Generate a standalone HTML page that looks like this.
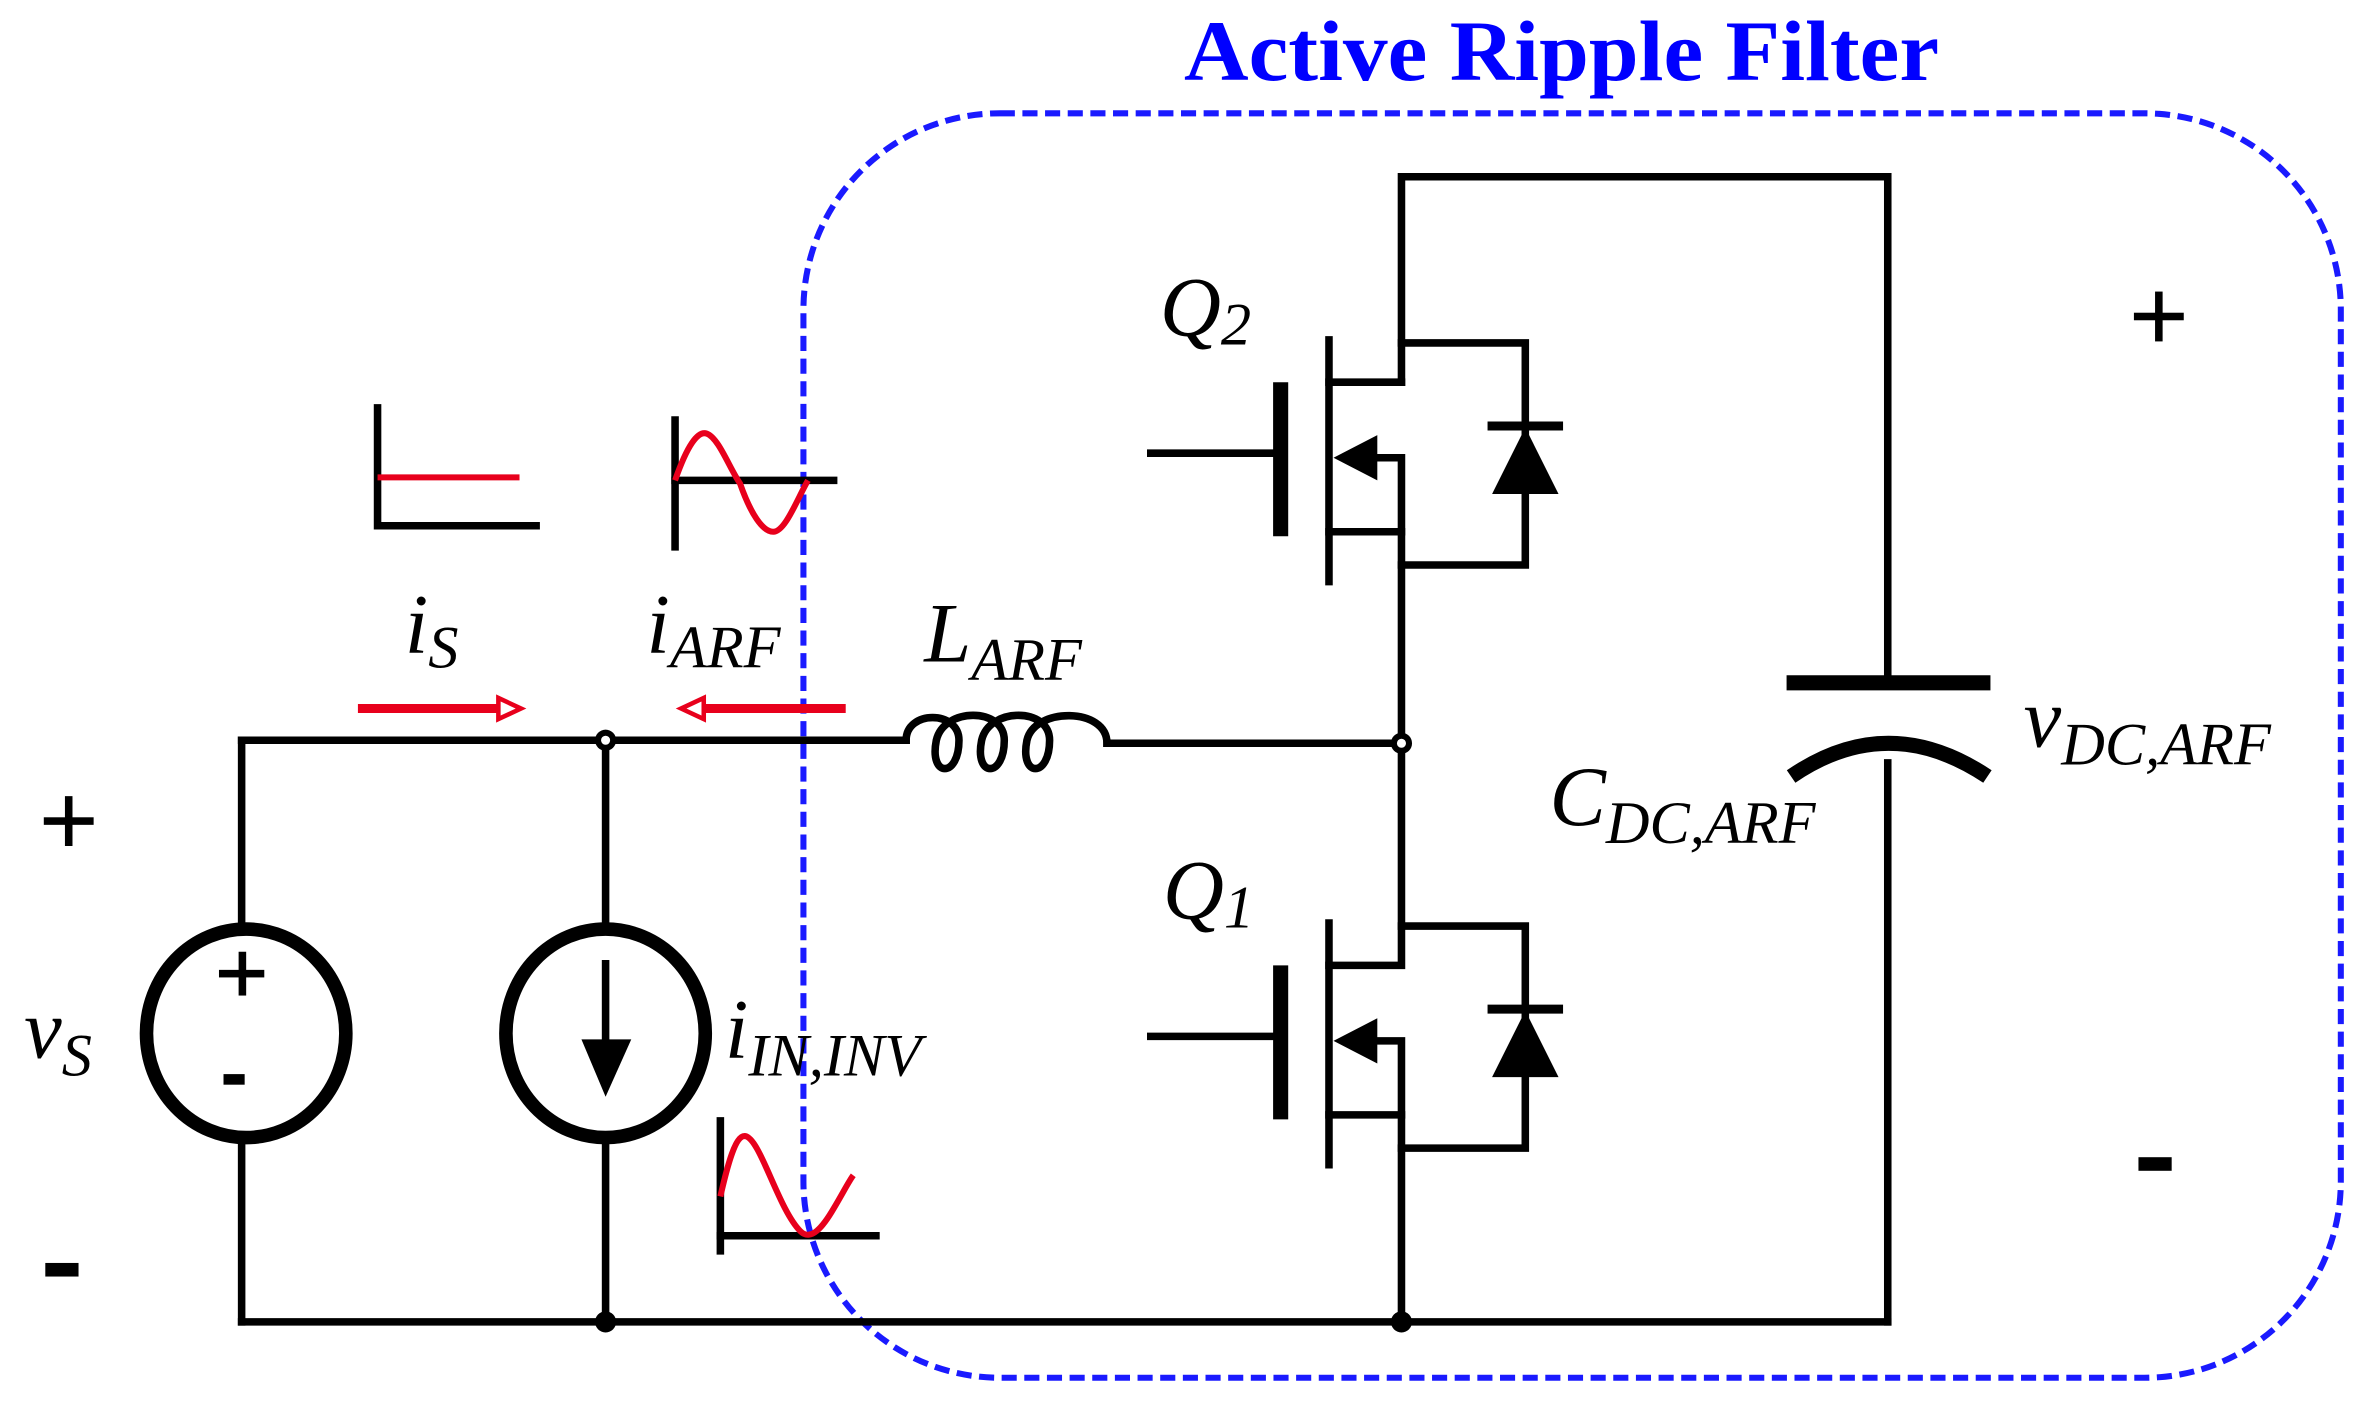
<!DOCTYPE html>
<html><head><style>html,body{margin:0;padding:0;background:#fff}svg{display:block}</style></head><body>
<svg width="2368" height="1411" viewBox="0 0 1568 934" preserveAspectRatio="none" xmlns="http://www.w3.org/2000/svg">
<g font-family="Liberation Serif, serif">
<text x="1034" y="53" text-anchor="middle" font-size="57" font-weight="bold" fill="#0000ff" textLength="500" lengthAdjust="spacingAndGlyphs">Active Ripple Filter</text>
</g>
<rect x="532" y="75" width="1018" height="837" rx="130" ry="130" fill="none" stroke="#1a1aff" stroke-width="4" stroke-dasharray="10,5"/>
<g stroke="#000" stroke-width="5" fill="none" stroke-linecap="square">
<polyline points="928,253 928,117 1250,117 1250,452"/>
<line x1="1250" y1="505" x2="1250" y2="875"/>
<line x1="160" y1="875" x2="1250" y2="875"/>
<line x1="160" y1="490" x2="600" y2="490"/>
<line x1="733" y1="492" x2="928" y2="492"/>
<path d="M600,490 C600,470 635,470 635,490 C635,515 615,515 620,490 C625,468 665,468 665,490 C665,515 645,515 650,490 C655,468 695,468 695,490 C695,515 675,515 680,490 C685,468 733,468 733,492"/>
<line x1="160" y1="490" x2="160" y2="613"/>
<line x1="160" y1="755" x2="160" y2="875"/>
<line x1="401" y1="490" x2="401" y2="613"/>
<line x1="401" y1="755" x2="401" y2="875"/>
<line x1="401" y1="638" x2="401" y2="695"/>
<line x1="880" y1="253" x2="928" y2="253"/>
<polyline points="895,303 928,303 928,492"/>
<line x1="880" y1="352" x2="928" y2="352"/>
<polyline points="928,227 1010,227 1010,374 928,374"/>
<line x1="880" y1="225" x2="880" y2="385"/>
<line x1="762" y1="300" x2="848" y2="300"/>
<polyline points="928,492 928,639 880,639"/>
<polyline points="895,689 928,689 928,875"/>
<line x1="880" y1="738" x2="928" y2="738"/>
<polyline points="928,613 1010,613 1010,760 928,760"/>
<line x1="880" y1="611" x2="880" y2="771"/>
<line x1="762" y1="686" x2="848" y2="686"/>
<polyline points="250,270 250,348 355,348"/>
<polyline points="447,278 447,362"/>
<line x1="447" y1="318" x2="552" y2="318"/>
<polyline points="477,742 477,828"/>
<line x1="477" y1="818" x2="580" y2="818"/>
</g>
<g stroke="#000" stroke-width="10" fill="none">
<line x1="848" y1="253" x2="848" y2="355"/>
<line x1="848" y1="639" x2="848" y2="741"/>
<line x1="1183" y1="452" x2="1318" y2="452"/>
<path d="M1186,514 Q1250,470 1316,514"/>
<ellipse cx="163" cy="684" rx="66" ry="69" stroke-width="9"/>
<ellipse cx="401" cy="684" rx="66" ry="69" stroke-width="9"/>
<line x1="985" y1="282" x2="1035" y2="282" stroke-width="6"/>
<line x1="985" y1="668" x2="1035" y2="668" stroke-width="6"/>
</g>
<g fill="#000">
<polygon points="1010,283 988,327 1032,327"/>
<polygon points="1010,669 988,713 1032,713"/>
<polygon points="883,303 912,288 912,318"/>
<polygon points="883,689 912,674 912,704"/>
<polygon points="385,688 418,688 401,726"/>
<circle cx="401" cy="490" r="7"/><circle cx="928" cy="492" r="7"/>
<circle cx="401" cy="875" r="7"/><circle cx="928" cy="875" r="7"/>
<rect x="145" y="642" width="30" height="5"/><rect x="158" y="630" width="5" height="29"/>
<rect x="148" y="711" width="14" height="7"/>
</g>
<circle cx="401" cy="490" r="3" fill="#fff"/><circle cx="928" cy="492" r="3" fill="#fff"/>
<g stroke="#e8001c" stroke-width="4" fill="none">
<line x1="250" y1="316" x2="344" y2="316"/>
<path d="M447,318 C455,295 462,285 468,287 C476,290 483,310 490,320 C497,340 505,352 512,352 C520,352 528,330 535,318"/>
<path d="M477,792 C482,770 487,752 493,752 C503,752 515,800 530,815 C537,822 545,812 552,800 C558,790 562,782 565,778"/>
<line x1="237" y1="469" x2="335" y2="469" stroke-width="6"/>
<line x1="462" y1="469" x2="560" y2="469" stroke-width="6"/>
<polygon points="330,462 345,469 330,476" stroke-width="3" fill="#fff"/>
<polygon points="466,462 451,469 466,476" stroke-width="3" fill="#fff"/>
</g>
<g font-family="Liberation Serif, serif" font-style="italic" fill="#000">
<text x="268" y="432" font-size="56">i<tspan font-size="40" dy="10">S</tspan></text>
<text x="428" y="432" font-size="56">i<tspan font-size="40" dy="10">ARF</tspan></text>
<text x="612" y="438" font-size="56">L<tspan font-size="40" dy="12">ARF</tspan></text>
<text x="768" y="222" font-size="56">Q<tspan font-size="40" dy="6">2</tspan></text>
<text x="770" y="608" font-size="56">Q<tspan font-size="40" dy="6">1</tspan></text>
<text x="1026" y="546" font-size="56">C<tspan font-size="40" dy="12">DC,ARF</tspan></text>
<text x="1340" y="494" font-size="56">v<tspan font-size="40" dy="12">DC,ARF</tspan></text>
<text x="16" y="700" font-size="56">v<tspan font-size="40" dy="12">S</tspan></text>
<text x="480" y="700" font-size="56">i<tspan font-size="40" dy="12">IN,INV</tspan></text>
</g>
<g fill="#000">
<rect x="29" y="541" width="33" height="5"/><rect x="43" y="527" width="5" height="33"/>
<rect x="1413" y="207" width="33" height="5"/><rect x="1427" y="193" width="5" height="33"/>
<rect x="30" y="836" width="22" height="9"/>
<rect x="1416" y="766" width="22" height="9"/>
</g>
</svg>
</body></html>
